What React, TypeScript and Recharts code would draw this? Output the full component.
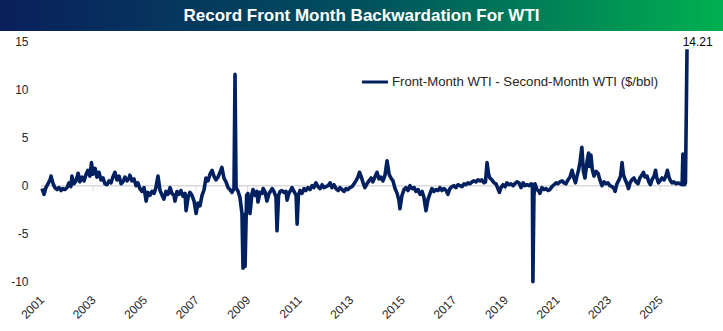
import React from 'react';
import { LineChart, Line, XAxis, YAxis, ReferenceLine, Legend } from 'recharts';

const title = 'Record Front Month Backwardation For WTI';
const seriesName = 'Front-Month WTI - Second-Month WTI ($/bbl)';

const yearTicks = [2001, 2003, 2005, 2007, 2009, 2011, 2013, 2015, 2017, 2019, 2021, 2023, 2025];
const valueTicks = [-10, -5, 0, 5, 10, 15];

const dates = [
  2001.02, 2001.10, 2001.17, 2001.25, 2001.33, 2001.37, 2001.45, 2001.52, 2001.60, 2001.68,
  2001.76, 2001.83, 2001.91, 2001.99, 2002.07, 2002.14, 2002.18, 2002.26, 2002.34, 2002.42,
  2002.49, 2002.57, 2002.65, 2002.73, 2002.80, 2002.88, 2002.94, 2003.00, 2003.08, 2003.15,
  2003.23, 2003.31, 2003.39, 2003.46, 2003.54, 2003.62, 2003.70, 2003.77, 2003.85, 2003.93,
  2004.01, 2004.09, 2004.16, 2004.24, 2004.32, 2004.40, 2004.43, 2004.51, 2004.59, 2004.67,
  2004.74, 2004.82, 2004.90, 2004.98, 2005.06, 2005.13, 2005.21, 2005.29, 2005.37, 2005.44,
  2005.52, 2005.60, 2005.68, 2005.75, 2005.83, 2005.91, 2005.99, 2006.06, 2006.14, 2006.18,
  2006.26, 2006.34, 2006.41, 2006.49, 2006.57, 2006.61, 2006.69, 2006.76, 2006.84, 2006.92,
  2007.00, 2007.07, 2007.15, 2007.23, 2007.31, 2007.38, 2007.46, 2007.54, 2007.62, 2007.69,
  2007.77, 2007.85, 2007.93, 2008.00, 2008.08, 2008.16, 2008.24, 2008.31, 2008.39, 2008.47,
  2008.51, 2008.55, 2008.63, 2008.70, 2008.78, 2008.82, 2008.86, 2008.90, 2008.96, 2009.01,
  2009.09, 2009.17, 2009.21, 2009.29, 2009.36, 2009.40, 2009.48, 2009.56, 2009.60, 2009.67,
  2009.75, 2009.83, 2009.91, 2009.95, 2010.02, 2010.10, 2010.14, 2010.20, 2010.26, 2010.33,
  2010.41, 2010.49, 2010.53, 2010.60, 2010.68, 2010.72, 2010.80, 2010.88, 2010.92, 2010.97,
  2011.03, 2011.11, 2011.19, 2011.26, 2011.34, 2011.42, 2011.50, 2011.57, 2011.65, 2011.73,
  2011.81, 2011.89, 2011.96, 2012.04, 2012.12, 2012.20, 2012.27, 2012.35, 2012.43, 2012.51,
  2012.58, 2012.66, 2012.74, 2012.82, 2012.89, 2012.97, 2013.05, 2013.13, 2013.20, 2013.28,
  2013.34, 2013.40, 2013.48, 2013.55, 2013.63, 2013.71, 2013.79, 2013.86, 2013.94, 2014.02,
  2014.10, 2014.17, 2014.25, 2014.33, 2014.41, 2014.49, 2014.56, 2014.64, 2014.72, 2014.80,
  2014.87, 2014.91, 2014.99, 2015.07, 2015.14, 2015.22, 2015.30, 2015.38, 2015.46, 2015.53,
  2015.61, 2015.69, 2015.77, 2015.84, 2015.92, 2016.00, 2016.08, 2016.15, 2016.23, 2016.31,
  2016.39, 2016.46, 2016.54, 2016.62, 2016.70, 2016.77, 2016.85, 2016.93, 2017.01, 2017.08,
  2017.16, 2017.24, 2017.32, 2017.40, 2017.47, 2017.55, 2017.63, 2017.71, 2017.78, 2017.86,
  2017.94, 2018.02, 2018.09, 2018.17, 2018.23, 2018.29, 2018.35, 2018.40, 2018.48, 2018.56,
  2018.64, 2018.71, 2018.77, 2018.83, 2018.91, 2018.99, 2019.06, 2019.14, 2019.22, 2019.30,
  2019.37, 2019.45, 2019.53, 2019.61, 2019.69, 2019.76, 2019.84, 2019.92, 2020.00, 2020.05,
  2020.07, 2020.11, 2020.15, 2020.23, 2020.31, 2020.34, 2020.42, 2020.50, 2020.58, 2020.66,
  2020.73, 2020.81, 2020.89, 2020.97, 2021.04, 2021.12, 2021.20, 2021.28, 2021.35, 2021.43,
  2021.51, 2021.59, 2021.66, 2021.72, 2021.78, 2021.84, 2021.90, 2021.97, 2022.03, 2022.09,
  2022.17, 2022.23, 2022.28, 2022.32, 2022.38, 2022.44, 2022.52, 2022.60, 2022.67, 2022.75,
  2022.83, 2022.91, 2022.98, 2023.06, 2023.14, 2023.22, 2023.26, 2023.33, 2023.41, 2023.47,
  2023.53, 2023.58, 2023.64, 2023.72, 2023.78, 2023.84, 2023.91, 2023.99, 2024.07, 2024.15,
  2024.22, 2024.30, 2024.36, 2024.42, 2024.50, 2024.57, 2024.63, 2024.69, 2024.77, 2024.83,
  2024.88, 2024.94, 2025.00, 2025.08, 2025.16, 2025.23, 2025.29, 2025.35, 2025.41, 2025.47,
  2025.54, 2025.62, 2025.70, 2025.78, 2025.86, 2025.89, 2025.95, 2025.99, 2026.02, 2026.05,
];

const spread = [
  -0.3, -0.9, -0.2, 0.2, 0.6, 1.0, 0.2, -0.2, -0.4, -0.2,
  -0.5, -0.3, -0.4, -0.2, 0.3, -0.1, 1.0, 0.2, 0.5, 1.3,
  0.4, 0.9, 0.5, 1.2, 1.6, 1.0, 2.4, 1.2, 1.8, 0.9,
  1.4, 0.6, 0.8, 0.2, 0.1, 0.5, 0.3, 0.9, 1.4, 0.6,
  1.0, 0.2, 0.4, 0.9, 0.5, 0.8, 1.1, 0.5, 0.7, 0.0,
  0.3, -0.3, -0.6, -0.2, -1.6, -0.7, -1.0, -0.6, -0.8, -0.2,
  1.0, -0.5, -1.0, -1.4, -0.6, -0.9, -0.2, -0.8, -1.0, -1.6,
  -0.6, -0.9, -0.5, -1.1, -0.8, -2.6, -1.2, -0.7, -1.0, -1.6,
  -2.9, -1.8, -2.1, -1.0, -0.4, 0.8, 0.5, 1.2, 1.6, 1.0,
  0.6, 0.9, 1.4, 1.9, 0.8, 0.4, -0.2, -0.4, -0.7, -0.3,
  11.6, -0.2, -0.6, -1.2, -2.9, -8.6, -3.0, -8.4, -1.0, -0.8,
  -2.9, -0.8, -0.4, -1.0, -0.6, -1.7, -0.7, -0.8, -0.3, -0.6,
  -1.6, -0.8, -0.5, -0.3, -0.6, -1.2, -4.7, -1.0, -0.6, -0.5,
  -0.7, -0.6, -1.5, -0.8, -0.4, -0.2, -0.6, -1.0, -4.0, -1.0,
  -0.5, -0.8, -0.3, -0.5, -0.2, -0.4, 0.0, -0.2, 0.3, -0.1,
  -0.3, 0.1, -0.2, -0.1, 0.0, 0.3, -0.2, 0.1, -0.3, -0.5,
  -0.2, -0.4, -0.6, -0.3, -0.4, -0.2, -0.1, 0.2, 0.5, 0.9,
  1.4, 1.0, 0.3, -0.2, 0.2, 0.5, 0.8, 0.4, 0.9, 1.4,
  0.7, 0.9, 0.5, 1.1, 2.6, 1.2, 0.8, 0.5, -0.3, -0.8,
  -1.5, -2.4, -1.0, -0.4, -0.2, -0.5, 0.0, -0.3, -0.2, -0.6,
  -0.4, -0.9, -0.6, -1.2, -2.6, -1.4, -0.8, -0.3, -0.6, -0.4,
  -0.5, -0.2, -0.5, -0.3, -0.5, -0.9, -0.3, -0.1, 0.0, -0.2,
  0.1, 0.0, -0.1, 0.2, 0.1, 0.3, 0.2, 0.4, 0.5, 0.4,
  0.6, 0.5, 0.6, 0.3, 0.4, 2.4, 1.2, 0.8, 0.6, 0.3,
  0.2, -0.3, -0.7, -0.2, 0.1, -0.1, 0.3, 0.1, 0.2, 0.0,
  0.2, 0.4, 0.3, -0.2, 0.3, 0.0, 0.1, 0.0, 0.2, 0.1,
  -10.0, -1.0, 0.2, -0.4, -0.6, -0.8, -0.2, -0.4, -0.3, -0.5,
  -0.4, -0.1, 0.1, 0.3, 0.2, 0.4, 0.5, 0.3, 0.2, 0.6,
  0.9, 1.6, 0.8, 0.3, 1.0, 1.6, 2.5, 4.0, 1.5, 0.8,
  2.5, 3.4, 2.0, 3.2, 1.6, 1.0, 1.5, 1.3, 0.6, 0.0,
  0.4, 0.2, 0.3, 0.0, -0.1, -0.3, -0.6, 0.2, 0.6, 1.0,
  2.4, 1.2, 0.7, 0.2, -0.3, 0.3, 0.6, 0.8, 0.4, 0.2,
  0.8, 1.1, 1.4, 0.9, 1.0, 0.4, 0.1, 0.6, 1.0, 1.6,
  0.8, 0.3, 0.5, 0.8, 0.6, 1.0, 1.6, 0.9, 0.5, 0.3,
  0.4, 0.2, 0.3, 0.2, 0.1, 3.3, 0.1, 0.3, 7.0, 14.21,
];

const data = dates.map((t, i) => ({ t, v: spread[i] }));
const lastIndex = data.length - 1;

const NAVY = '#002060';
const FONT = '"Liberation Sans", Arial, sans-serif';
const TEXT = '#262626';

const renderPeakLabel = (props: any) => {
  const { x, y, index, value } = props;
  if (index !== lastIndex && value !== spread[lastIndex]) return null;
  return (
    <text x={x + 10.7} y={y - 3.3} textAnchor="middle" fontSize={12} fontFamily={FONT} fill="#000">
      {spread[lastIndex].toFixed(2)}
    </text>
  );
};

const renderLegend = () => (
  <div
    style={{
      display: 'flex',
      alignItems: 'center',
      fontFamily: FONT,
      fontSize: 13.2,
      lineHeight: '16px',
      color: TEXT,
      whiteSpace: 'nowrap',
    }}
  >
    <svg width={30} height={6} style={{ display: 'block' }}>
      <line x1={0} y1={3} x2={26} y2={3} stroke={NAVY} strokeWidth={3} />
    </svg>
    <span>{seriesName}</span>
  </div>
);

export default function App() {
  return (
    <div style={{ position: 'absolute', left: 0, top: 0, width: 723, height: 331, background: '#fff' }}>
      <LineChart
        width={723}
        height={331}
        data={data}
        margin={{ top: 41.7, right: 36, bottom: 0, left: 11.5 }}
      >
        <XAxis
          dataKey="t"
          type="number"
          domain={[2001, 2026.05]}
          ticks={yearTicks}
          axisLine={false}
          tickLine={false}
          tickSize={0}
          tickMargin={0}
          height={49.3}
          interval={0}
          tick={{
            angle: -45,
            textAnchor: 'end',
            verticalAnchor: 'end',
            dx: -2.5,
            dy: 13,
            fontSize: 12,
            fontFamily: FONT,
            fill: TEXT,
          }}
        />
        <YAxis
          type="number"
          domain={[-10, 15]}
          ticks={valueTicks}
          axisLine={false}
          tickLine={false}
          tickSize={0}
          tickMargin={13}
          width={30}
          interval={0}
          tick={{ fontSize: 12, fontFamily: FONT, fill: TEXT }}
        />
        <ReferenceLine y={0} stroke="#d9d9d9" strokeWidth={1.5} />
        {yearTicks.map((yr) => (
          <ReferenceLine
            key={yr}
            segment={[{ x: yr, y: 0 }, { x: yr, y: -0.55 }]}
            stroke="#d9d9d9"
            strokeWidth={1}
          />
        ))}
        <Legend
          layout="horizontal"
          verticalAlign="middle"
          align="center"
          content={renderLegend}
          wrapperStyle={{ left: 362, top: 74, width: 340, height: 16 }}
        />
        <Line
          type="linear"
          dataKey="v"
          name={seriesName}
          stroke={NAVY}
          strokeWidth={3.6}
          strokeLinejoin="round"
          dot={false}
          activeDot={false}
          isAnimationActive={false}
          label={renderPeakLabel}
        />
      </LineChart>
      <div
        style={{
          position: 'absolute',
          left: 0,
          top: 0,
          width: 723,
          height: 31,
          background: 'linear-gradient(90deg, #0a1f5c 0%, #00505e 50%, #00b050 100%)',
          color: '#fff',
          fontFamily: FONT,
          fontWeight: 'bold',
          fontSize: 17,
          lineHeight: '31px',
          textAlign: 'center',
          zIndex: 2,
        }}
      >
        {title}
      </div>
    </div>
  );
}
